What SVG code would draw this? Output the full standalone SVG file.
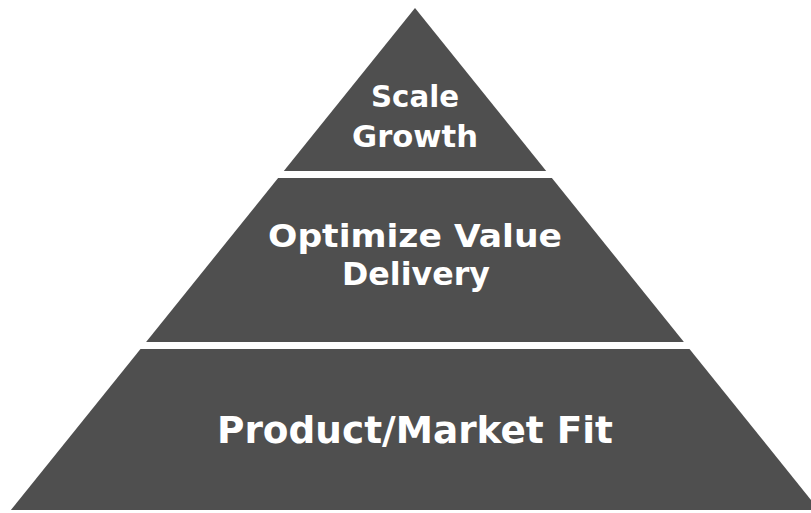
<svg xmlns="http://www.w3.org/2000/svg" width="811" height="513" viewBox="0 0 811 513">
  <style>
    .tier { fill: #4f4f4f; }
    .lbl { fill: #ffffff; font-family: "DejaVu Sans", "Liberation Sans", Arial, sans-serif; font-weight: bold; text-anchor: middle; }
  </style>
  <rect width="811" height="513" fill="#ffffff"/>
  <g id="tier-top">
    <polygon class="tier" points="415,8 546.2,171 283.8,171"/>
    <text class="lbl" x="415" y="107" font-size="30" textLength="88" lengthAdjust="spacingAndGlyphs">Scale</text>
    <text class="lbl" x="415" y="147" font-size="30" textLength="126" lengthAdjust="spacingAndGlyphs">Growth</text>
  </g>
  <g id="tier-middle">
    <polygon class="tier" points="278.1,178 551.9,178 683.9,342 146.1,342"/>
    <text class="lbl" x="415" y="247" font-size="32" textLength="294" lengthAdjust="spacingAndGlyphs">Optimize Value</text>
    <text class="lbl" x="416" y="285" font-size="32" textLength="148" lengthAdjust="spacingAndGlyphs">Delivery</text>
  </g>
  <g id="tier-bottom">
    <polygon class="tier" points="140.5,349 689.5,349 819.1,510 10.9,510"/>
    <text class="lbl" x="415" y="443" font-size="38" textLength="396" lengthAdjust="spacingAndGlyphs">Product/Market Fit</text>
  </g>
  <g id="connectors"></g>
</svg>
